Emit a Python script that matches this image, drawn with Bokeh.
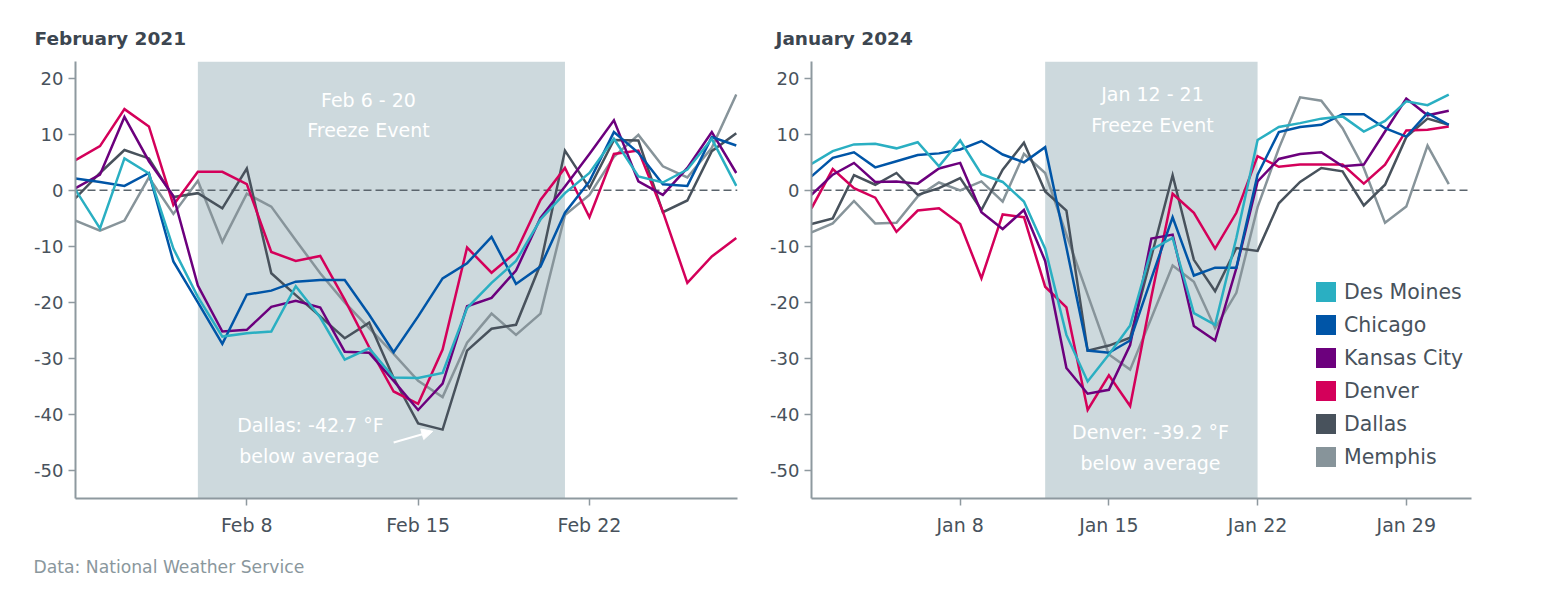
from bokeh.plotting import figure
from bokeh.models import (Range1d, BoxAnnotation, Span, Label, Legend, LegendItem,
                          Arrow, NormalHead, FixedTicker, Title)
from bokeh.layouts import row
from bokeh.embed import file_html
from bokeh.resources import INLINE

# ---------------- data ----------------
cities = ["Des Moines", "Chicago", "Kansas City", "Denver", "Dallas", "Memphis"]
colors = ["#2AAFC2", "#0055A7", "#6C007D", "#D4005A", "#48525C", "#87949A"]

feb_days = list(range(1, 29))
feb_des_moines = [0.1, -6.8, 5.7, 3.0, -10.4, -19.0, -26.1, -25.5, -25.2, -17.1, -22.7, -30.2, -28.2, -33.4,
                  -33.5, -32.6, -21.0, -16.5, -12.6, -5.2, -0.5, 3.1, 9.2, 2.5, 1.4, 3.7, 9.2, 0.8]
feb_chicago = [2.1, 1.5, 0.8, 3.1, -12.7, -20.0, -27.4, -18.6, -17.9, -16.3, -16.0, -16.0, -22.2, -28.9,
               -22.5, -15.7, -13.0, -8.3, -16.7, -13.6, -4.0, 1.6, 10.4, 6.7, 1.1, 0.8, 9.5, 8.0]
feb_kansas_city = [0.4, 2.8, 13.1, 5.2, -1.0, -17.0, -25.2, -24.9, -20.8, -19.7, -20.9, -28.8, -29.0, -34.0,
                   -39.2, -34.5, -20.7, -19.2, -14.3, -4.9, 0.7, 6.5, 12.5, 1.6, -0.8, 4.0, 10.4, 3.1]
feb_denver = [5.4, 7.9, 14.5, 11.4, -2.6, 3.3, 3.3, 1.1, -11.0, -12.6, -11.7, -19.5, -28.0, -35.9,
              -38.1, -28.4, -10.2, -14.7, -11.0, -1.7, 4.0, -4.8, 6.5, 7.1, -3.8, -16.5, -11.8, -8.5]
feb_dallas = [-1.4, 3.1, 7.2, 5.7, -1.2, -0.5, -3.2, 3.9, -14.8, -18.7, -22.5, -26.4, -23.6, -33.5,
              -41.6, -42.7, -28.6, -24.7, -24.0, -13.2, 7.1, 0.4, 9.0, 8.9, -3.9, -1.8, 7.0, 10.2]
feb_memphis = [-5.4, -7.2, -5.4, 2.3, -4.2, 1.7, -9.2, -0.6, -2.9, -8.9, -14.8, -20.0, -24.6, -29.2,
               -34.0, -36.9, -27.2, -22.0, -25.8, -22.0, -4.4, -0.8, 6.0, 9.9, 4.3, 2.3, 7.6, 17.1]

jan_days = list(range(1, 32))
jan_des_moines = [4.7, 7.0, 8.2, 8.3, 7.5, 8.6, 4.3, 8.9, 2.9, 1.5, -2.0, -10.4, -25.8, -34.1, -29.3, -24.1,
                  -10.6, -8.5, -21.9, -24.0, -8.5, 9.0, 11.3, 12.0, 12.8, 13.2, 10.5, 12.4, 15.9, 15.2, 17.1]
jan_chicago = [2.5, 5.8, 6.8, 4.1, 5.2, 6.3, 6.6, 7.3, 8.8, 6.4, 5.0, 7.7, -10.2, -28.6, -29.0, -26.8,
               -15.7, -4.8, -15.2, -13.8, -13.8, 2.8, 10.4, 11.3, 11.7, 13.6, 13.6, 11.1, 9.6, 13.8, 11.7]
jan_kansas_city = [-0.8, 2.8, 4.9, 1.5, 1.6, 1.2, 3.9, 4.9, -3.9, -6.9, -3.5, -12.6, -31.7, -36.3, -35.6, -27.6,
                   -8.6, -7.9, -24.2, -26.8, -13.9, 1.6, 5.6, 6.5, 6.8, 4.3, 4.6, 10.5, 16.4, 13.4, 14.2]
jan_denver = [-3.2, 3.8, 0.4, -1.3, -7.4, -3.6, -3.2, -6.0, -15.7, -4.3, -4.8, -17.2, -20.9, -39.2, -33.0, -38.5,
              -19.0, -0.6, -4.0, -10.4, -4.0, 6.1, 4.2, 4.6, 4.6, 4.6, 1.2, 4.6, 10.7, 10.8, 11.4]
jan_dallas = [-6.0, -5.0, 2.7, 1.0, 3.1, -0.8, 0.4, 2.2, -3.5, 3.7, 8.5, -0.2, -3.6, -28.6, -27.7, -26.3,
              -11.8, 2.7, -12.4, -18.0, -10.3, -10.8, -2.3, 1.5, 4.0, 3.4, -2.7, 1.0, 9.5, 12.8, 11.7]
jan_memphis = [-7.5, -5.9, -1.9, -5.9, -5.8, -1.1, 1.4, 0.0, 1.6, -2.0, 6.5, 3.1, -7.9, -18.6, -29.3, -32.0,
               -22.8, -13.4, -16.3, -24.6, -18.3, -3.0, 7.5, 16.6, 16.0, 11.1, 4.0, -5.8, -2.9, 8.0, 1.1]

y_ticks = [-50, -40, -30, -20, -10, 0, 10, 20]
y_tick_labels = ["-50", "-40", "-30", "-20", "-10", "0", "10", "20"]
feb_ticks = [8, 15, 22]
feb_tick_labels = ["Feb 8", "Feb 15", "Feb 22"]
jan_ticks = [8, 15, 22, 29]
jan_tick_labels = ["Jan 8", "Jan 15", "Jan 22", "Jan 29"]

feb_event = (6, 21)
jan_event = (12, 22)

# ---------------- styling ----------------
FONT = "DejaVu Sans"
AXIS_C = "#8E999F"
TEXT_C = "#48525C"


def make_fig(x_end, width, min_left, min_right, ticks, tick_labels, event):
    p = figure(width=width, height=598, x_range=Range1d(1, x_end), y_range=Range1d(-55, 23),
               output_backend="svg", toolbar_location=None,
               min_border_left=min_left, min_border_right=min_right,
               min_border_top=61, min_border_bottom=100)
    p.outline_line_color = None
    p.xgrid.visible = False
    p.ygrid.visible = False
    p.background_fill_color = "white"
    p.border_fill_color = "white"

    for ax in (p.xaxis[0], p.yaxis[0]):
        ax.axis_line_color = AXIS_C
        ax.axis_line_width = 2
        ax.major_tick_line_color = AXIS_C
        ax.major_tick_line_width = 1.5
        ax.major_tick_out = 7
        ax.major_tick_in = 0
        ax.minor_tick_line_color = None
        ax.major_label_text_font = FONT
        ax.major_label_text_color = TEXT_C
    p.yaxis[0].ticker = FixedTicker(ticks=y_ticks)
    p.yaxis[0].major_label_overrides = {t: l for t, l in zip(y_ticks, y_tick_labels)}
    p.yaxis[0].major_label_text_font_size = "18px"
    p.yaxis[0].major_label_standoff = 5
    p.xaxis[0].ticker = FixedTicker(ticks=ticks)
    p.xaxis[0].major_label_overrides = {t: l for t, l in zip(ticks, tick_labels)}
    p.xaxis[0].major_label_text_font_size = "19px"
    p.xaxis[0].major_label_standoff = 8

    p.add_layout(BoxAnnotation(left=event[0], right=event[1], fill_color="#CDD9DD",
                               fill_alpha=1.0, line_color=None, level="underlay"))
    p.add_layout(Span(location=0, dimension="width", line_color="#5B656D",
                      line_dash="8 4", line_width=1.5, level="underlay"))
    return p


p1 = make_fig(28.05, 767, 75, 30, feb_ticks, feb_tick_labels, feb_event)
p2 = make_fig(32.07, 777, 42, 73, jan_ticks, jan_tick_labels, jan_event)

feb_series = [feb_des_moines, feb_chicago, feb_kansas_city, feb_denver, feb_dallas, feb_memphis]
jan_series = [jan_des_moines, jan_chicago, jan_kansas_city, jan_denver, jan_dallas, jan_memphis]

for i in reversed(range(len(cities))):
    p1.line(feb_days, feb_series[i], line_color=colors[i], line_width=2.5, line_join="miter")
    p2.line(jan_days, jan_series[i], line_color=colors[i], line_width=2.5, line_join="miter")


def lab(p, x, y, text, **kw):
    opts = dict(text_font=FONT, text_color="white", text_font_size="19px",
                text_align="center", text_baseline="middle")
    opts.update(kw)
    p.add_layout(Label(x=x, y=y, text=text, **opts))


# event annotations
lab(p1, 12.97, 16.2, "Feb 6 - 20")
lab(p1, 12.97, 10.7, "Freeze Event")
lab(p1, 10.6, -41.8, "Dallas: -42.7 °F")
lab(p1, 10.55, -47.4, "below average")
p1.add_layout(Arrow(end=NormalHead(size=11, fill_color="white", line_color="white"),
                    x_start=14.0, y_start=-45.0, x_end=15.6, y_end=-43.0,
                    line_color="white", line_width=2))

lab(p2, 17.05, 17.2, "Jan 12 - 21")
lab(p2, 17.05, 11.7, "Freeze Event")
lab(p2, 16.96, -43.1, "Denver: -39.2 °F")
lab(p2, 16.96, -48.6, "below average")

# titles and source
for p, t, dx in ((p1, "February 2021", -41), (p2, "January 2024", -36)):
    p.add_layout(Title(text=t, align="left", offset=dx, standoff=25,
                       text_font=FONT, text_font_style="bold", text_font_size="18.5px",
                       text_color="#3C4650"), "above")
p1.add_layout(Title(text="Data: National Weather Service", align="left", offset=-42, standoff=32,
                    text_font=FONT, text_font_style="normal", text_font_size="17.2px",
                    text_color="#8A979D"), "below")

# legend with square swatches (invisible zero-size quads provide the swatches)
items = []
for i, (name, c) in enumerate(zip(cities, colors)):
    r = p2.quad(left=jan_days[:1], right=jan_days[:1], top=jan_series[i][:1], bottom=jan_series[i][:1],
                fill_color=c, line_color=None, fill_alpha=1.0)
    items.append(LegendItem(label=name, renderers=[r]))
legend = Legend(items=items, location=(502, 29), glyph_width=25, glyph_height=25,
                label_height=25, spacing=8, label_standoff=6, padding=0, margin=0,
                border_line_color=None, background_fill_alpha=0,
                label_text_font=FONT, label_text_font_size="20.5px",
                label_text_color=TEXT_C)
p2.add_layout(legend)

layout = row(p1, p2)
open("out.html", "w").write(file_html(layout, INLINE))
